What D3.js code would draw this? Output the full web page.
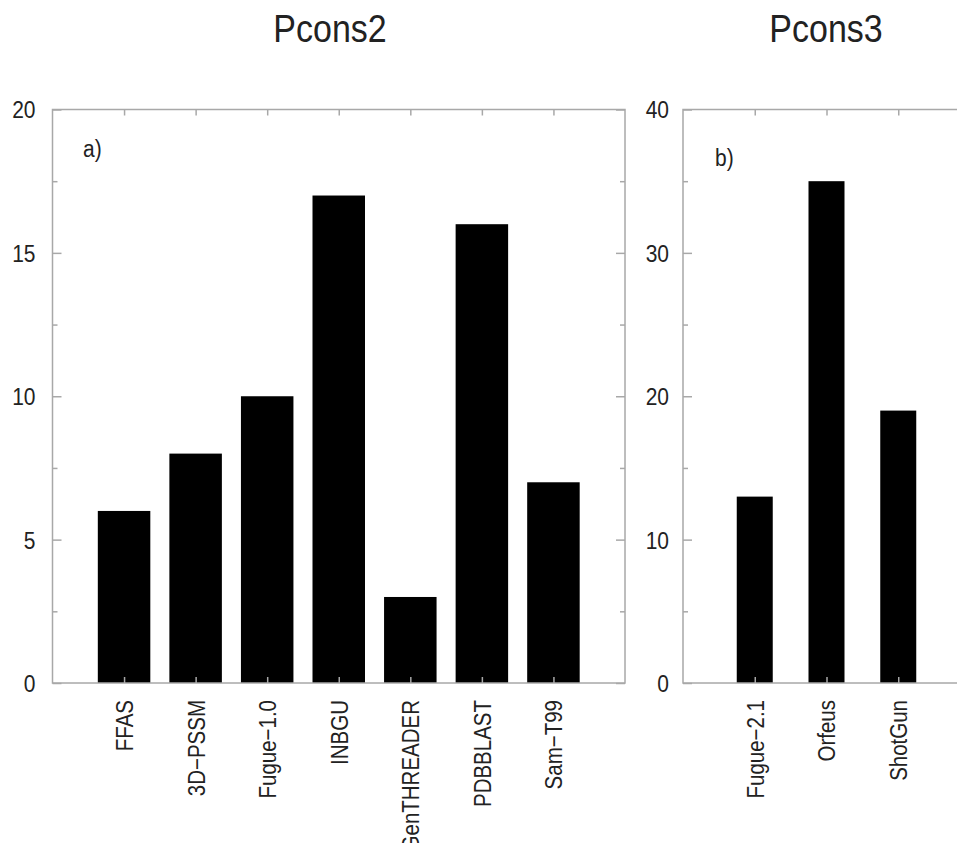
<!DOCTYPE html>
<html>
<head>
  <meta charset="utf-8">
  <script src="https://d3js.org/d3.v7.min.js"></script>
  <style>
    html, body { margin: 0; padding: 0; background: #fff; }
    svg { display: block; }
    text { font-family: "Liberation Sans", Arial, Helvetica, sans-serif; fill: #222; }
    .frame { fill: none; stroke: #a8a8a8; stroke-width: 1.5px; }
    .axis path { display: none; }
    .axis line { stroke: #a8a8a8; stroke-width: 1.5px; }
  </style>
</head>
<body>
  <svg width="957" height="843"></svg>
  <script>
    // Pcons2 panel (a)
    const catsA = ["FFAS", "3D\u2212PSSM", "Fugue\u22121.0", "INBGU", "GenTHREADER", "PDBBLAST", "Sam\u2212T99"];
    const valsA = [6, 8, 10, 17, 3, 16, 7];
    const ticksA = [0, 5, 10, 15, 20];
    const minorA = [2.5, 7.5, 12.5, 17.5];

    // Pcons3 panel (b)
    const catsB = ["Fugue\u22122.1", "Orfeus", "ShotGun"];
    const valsB = [13, 35, 19];
    const ticksB = [0, 10, 20, 30, 40];
    const minorB = [5, 15, 25, 35];

    const svg = d3.select("svg");
    const yTop = 109.5, yBottom = 683;
    const stretch = 1.12; // the source figure is a bit taller than wide

    function panel(opt) {
      const x = d3.scaleLinear().domain([0, opt.cats.length + 1]).range([opt.left, opt.right]);
      const y = d3.scaleLinear().domain([0, opt.ymax]).range([yBottom, yTop]);
      const g = svg.append("g");
      const idx = opt.cats.map((c, i) => i + 1);

      // bars
      g.selectAll("rect.bar")
        .data(opt.vals)
        .join("rect")
          .attr("class", "bar")
          .attr("x", (d, i) => x(i + 1) - opt.barW / 2)
          .attr("width", opt.barW)
          .attr("y", d => y(d))
          .attr("height", d => y(0) - y(d))
          .attr("fill", "#000");

      // left axis with labels, ticks pointing inward
      g.append("g")
        .attr("class", "axis")
        .attr("transform", `translate(${opt.left},0)`)
        .call(d3.axisLeft(y).tickValues(opt.ticks).tickSize(-9).tickPadding(opt.pad))
        .call(a => a.selectAll("text")
          .style("font-size", "21px")
          .attr("fill", "#222")
          .attr("dy", "0.36em")
          .attr("transform", `scale(1,${stretch})`));
      g.append("g")
        .attr("class", "axis")
        .attr("transform", `translate(${opt.left},0)`)
        .call(d3.axisLeft(y).tickValues(opt.minor).tickSize(-5).tickFormat(""));

      // mirrored right ticks
      g.append("g")
        .attr("class", "axis")
        .attr("transform", `translate(${opt.right},0)`)
        .call(d3.axisRight(y).tickValues(opt.ticks).tickSize(-9).tickFormat(""));
      g.append("g")
        .attr("class", "axis")
        .attr("transform", `translate(${opt.right},0)`)
        .call(d3.axisRight(y).tickValues(opt.minor).tickSize(-5).tickFormat(""));

      // top ticks at category positions
      g.append("g")
        .attr("class", "axis")
        .attr("transform", `translate(0,${yTop})`)
        .call(d3.axisTop(x).tickValues(idx).tickSize(-6).tickFormat(""));

      // bottom axis with rotated category labels
      g.append("g")
        .attr("class", "axis")
        .attr("transform", `translate(0,${yBottom})`)
        .call(d3.axisBottom(x).tickValues(idx).tickSize(-6).tickFormat(i => opt.cats[i - 1]))
        .call(a => a.selectAll("text")
          .style("font-size", "20.5px")
          .attr("fill", "#222")
          .attr("text-anchor", "end")
          .attr("transform", "rotate(-90) scale(1,1.15)")
          .attr("x", -17)
          .attr("y", 0)
          .attr("dy", "0.36em"));

      // frame
      g.append("rect")
        .attr("class", "frame")
        .attr("x", opt.left).attr("y", yTop)
        .attr("width", opt.right - opt.left)
        .attr("height", yBottom - yTop);

      g.append("text")
        .attr("transform", `translate(${opt.lx},${opt.ly}) scale(1,${stretch})`)
        .style("font-size", "21px")
        .text(opt.tag);

      g.append("text")
        .attr("transform", `translate(${opt.tx},42) scale(1,${stretch})`)
        .attr("text-anchor", "middle")
        .style("font-size", "34px")
        .text(opt.title);
    }

    panel({ cats: catsA, vals: valsA, ticks: ticksA, minor: minorA, ymax: 20,
            left: 52.5, right: 625, barW: 52.5, pad: 17, tag: "a)", lx: 83, ly: 157,
            title: "Pcons2", tx: 330 });
    panel({ cats: catsB, vals: valsB, ticks: ticksB, minor: minorB, ymax: 40,
            left: 683, right: 970, barW: 36, pad: 14, tag: "b)", lx: 715, ly: 166,
            title: "Pcons3", tx: 826 });
  </script>
</body>
</html>
